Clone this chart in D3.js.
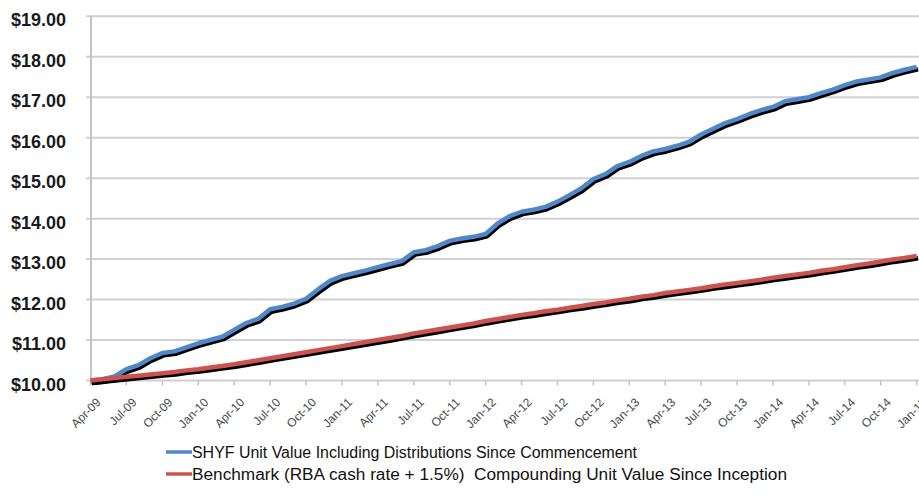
<!DOCTYPE html>
<html lang="en">
<head>
    <meta charset="utf-8">
    <title>SHYF Unit Value</title>
    <script src="https://d3js.org/d3.v7.min.js" charset="utf-8"></script>
    <style>
        body { margin: 0; background: #fff; }
    </style>
</head>
<body>

    <script>

    // monthly categories, Apr-09 .. Jan-15
    var months = [
        "Apr-09","May-09","Jun-09","Jul-09","Aug-09","Sep-09","Oct-09","Nov-09","Dec-09",
        "Jan-10","Feb-10","Mar-10","Apr-10","May-10","Jun-10","Jul-10","Aug-10","Sep-10","Oct-10","Nov-10","Dec-10",
        "Jan-11","Feb-11","Mar-11","Apr-11","May-11","Jun-11","Jul-11","Aug-11","Sep-11","Oct-11","Nov-11","Dec-11",
        "Jan-12","Feb-12","Mar-12","Apr-12","May-12","Jun-12","Jul-12","Aug-12","Sep-12","Oct-12","Nov-12","Dec-12",
        "Jan-13","Feb-13","Mar-13","Apr-13","May-13","Jun-13","Jul-13","Aug-13","Sep-13","Oct-13","Nov-13","Dec-13",
        "Jan-14","Feb-14","Mar-14","Apr-14","May-14","Jun-14","Jul-14","Aug-14","Sep-14","Oct-14","Nov-14","Dec-14",
        "Jan-15"
    ]

    // x tick labels (every quarter)
    var tickLabels = [
        "Apr-09","Jul-09","Oct-09","Jan-10","Apr-10","Jul-10","Oct-10","Jan-11","Apr-11","Jul-11","Oct-11","Jan-12",
        "Apr-12","Jul-12","Oct-12","Jan-13","Apr-13","Jul-13","Oct-13","Jan-14","Apr-14","Jul-14","Oct-14","Jan-15"
    ]

    var shyf = [
        10.00, 10.03, 10.10, 10.28, 10.38, 10.55, 10.68, 10.72, 10.82,
        10.92, 11.00, 11.08, 11.25, 11.42, 11.52, 11.76, 11.82, 11.90, 12.02, 12.25, 12.46,
        12.58, 12.65, 12.72, 12.80, 12.88, 12.95, 13.17, 13.22, 13.32, 13.45, 13.51, 13.55,
        13.62, 13.88, 14.06, 14.17, 14.22, 14.29, 14.42, 14.58, 14.75, 14.98, 15.10, 15.30,
        15.40, 15.55, 15.66, 15.72, 15.80, 15.90, 16.08, 16.22, 16.36, 16.46, 16.58, 16.68,
        16.76, 16.90, 16.95, 17.00, 17.10, 17.19, 17.30, 17.39, 17.44, 17.49, 17.60, 17.68,
        17.75
    ]

    var benchmark = [
        10.00, 10.03, 10.06, 10.09, 10.12, 10.15, 10.18, 10.21, 10.25,
        10.28, 10.32, 10.36, 10.40, 10.45, 10.50, 10.55, 10.60, 10.65, 10.70, 10.75, 10.80,
        10.85, 10.90, 10.95, 11.00, 11.05, 11.10, 11.16, 11.21, 11.26, 11.31, 11.36, 11.41,
        11.47, 11.52, 11.57, 11.62, 11.66, 11.71, 11.75, 11.80, 11.84, 11.89, 11.93, 11.98,
        12.02, 12.07, 12.11, 12.16, 12.20, 12.24, 12.28, 12.33, 12.37, 12.41, 12.45, 12.49,
        12.54, 12.58, 12.62, 12.66, 12.71, 12.75, 12.80, 12.85, 12.89, 12.94, 12.99, 13.03,
        13.08
    ]

    var yTicks = [10, 11, 12, 13, 14, 15, 16, 17, 18, 19]

    var seriesNames = [
        "SHYF Unit Value Including Distributions Since Commencement",
        "Benchmark (RBA cash rate + 1.5%)  Compounding Unit Value Since Inception"
    ]
    var seriesColors = ["#4f87c7", "#cc5450"]

    var w = 919
    var h = 495

    var svg = d3.select("body").append("svg").attr("width", w).attr("height", h)

    var xScale = d3.scalePoint().domain(months).range([90.5, 916.7])
    var yScale = d3.scaleLinear().domain([10, 19]).range([380.5, 16.3])

    // horizontal gridlines
    svg.append("g").selectAll("line").data(yTicks).enter().append("line")
        .attr("x1", 86).attr("x2", w)
        .attr("y1", function (d) { return yScale(d) })
        .attr("y2", function (d) { return yScale(d) })
        .attr("stroke", "#d0d0d0").attr("stroke-width", 2)

    // y axis line
    svg.append("line").attr("x1", 91).attr("x2", 91)
        .attr("y1", yScale(19)).attr("y2", yScale(10) + 4)
        .attr("stroke", "#c4c4c4").attr("stroke-width", 2)

    // x tick marks
    svg.append("g").selectAll("line").data(tickLabels).enter().append("line")
        .attr("x1", function (d) { return xScale(d) })
        .attr("x2", function (d) { return xScale(d) })
        .attr("y1", yScale(10)).attr("y2", yScale(10) + 5)
        .attr("stroke", "#c4c4c4").attr("stroke-width", 1.5)

    // y labels
    svg.append("g").selectAll("text").data(yTicks).enter().append("text")
        .attr("x", 66).attr("y", function (d) { return yScale(d) + 10 })
        .attr("text-anchor", "end")
        .attr("font-family", "Liberation Sans, Arial, sans-serif")
        .attr("font-weight", "bold").attr("font-size", "18px").attr("fill", "#1a1a1a")
        .text(function (d) { return "$" + d3.format(".2f")(d) })

    // x labels, rotated
    svg.append("g").selectAll("text").data(tickLabels).enter().append("text")
        .attr("transform", function (d) { return "translate(" + (xScale(d) + 11) + "," + 403 + ") rotate(-45)" })
        .attr("text-anchor", "end")
        .attr("font-family", "Liberation Sans, Arial, sans-serif")
        .attr("font-size", "12px").attr("fill", "#4a4a4a")
        .text(function (d) { return d })

    var defs = svg.append("defs")
    defs.append("filter").attr("id", "soft").append("feGaussianBlur").attr("stdDeviation", 0.7)

    var line = d3.line()
        .x(function (d, i) { return xScale(months[i]) })
        .y(function (d) { return yScale(d) })

    function drawSeries(values, color) {
        svg.append("path").datum(values).attr("d", line)
            .attr("transform", "translate(1.3,2.4)")
            .attr("fill", "none").attr("stroke", "#000").attr("stroke-width", 4.5)
            .attr("stroke-linejoin", "round").attr("filter", "url(#soft)")
        svg.append("path").datum(values).attr("d", line)
            .attr("fill", "none").attr("stroke", color).attr("stroke-width", 4.5)
            .attr("stroke-linejoin", "round")
    }

    drawSeries(shyf, seriesColors[0])
    drawSeries(benchmark, seriesColors[1])

    // legend
    var legendY = [452, 474]
    var legendWidth = [445, 595]
    seriesNames.forEach(function (name, i) {
        svg.append("line").attr("x1", 166).attr("x2", 192)
            .attr("y1", legendY[i]).attr("y2", legendY[i])
            .attr("stroke", seriesColors[i]).attr("stroke-width", 3.5)
        svg.append("text").attr("x", 192).attr("y", legendY[i] + 6)
            .attr("font-family", "Liberation Sans, Arial, sans-serif")
            .attr("font-size", "16px").attr("fill", "#111")
            .attr("textLength", legendWidth[i]).attr("lengthAdjust", "spacingAndGlyphs")
            .style("white-space", "pre")
            .text(name)
    })

    </script>

</body>
</html>
